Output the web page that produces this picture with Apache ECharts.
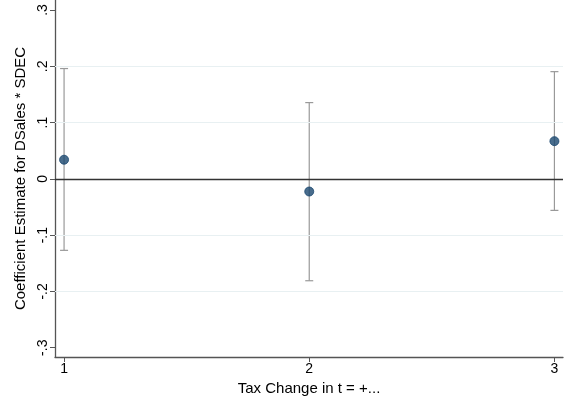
<!DOCTYPE html>
<html>
<head>
<meta charset="utf-8">
<script src="https://cdn.jsdelivr.net/npm/echarts@6/dist/echarts.min.js"></script>
<style>html,body{margin:0;padding:0;background:#fff;}#c{width:572px;height:406px;}</style>
</head>
<body>
<div id="c"></div>
<script>
const horizons = [1, 2, 3];
const estimates = [0.034, -0.0225, 0.067];
const ciLower = [-0.127, -0.181, -0.056];
const ciUpper = [0.196, 0.1355, 0.1905];
const yTickValues = [-0.3, -0.2, -0.1, 0, 0.1, 0.2, 0.3];
const yTickLabels = ['-.3', '-.2', '-.1', '0', '.1', '.2', '.3'];
const xTickValues = [1, 2, 3];
const gridLineValues = [-0.2, -0.1, 0.1, 0.2];

const chart = echarts.init(document.getElementById('c'), null, {renderer: 'canvas'});
const font = 'Liberation Sans, Arial, sans-serif';
chart.setOption({
  animation: false,
  backgroundColor: '#ffffff',
  grid: {left: 55, right: 9, top: 0, bottom: 49, containLabel: false},
  xAxis: {
    type: 'value', min: 0.963, max: 3.035,
    name: 'Tax Change in t = +...', nameLocation: 'middle', nameGap: 24,
    nameTextStyle: {fontFamily: font, fontSize: 15, color: '#000'},
    axisLine: {show: true, onZero: false, lineStyle: {color: '#555', width: 1.3}},
    axisTick: {show: true, customValues: xTickValues, length: 5, lineStyle: {color: '#555'}},
    axisLabel: {customValues: xTickValues, fontFamily: font, fontSize: 14, color: '#000', margin: 5},
    splitLine: {show: false}
  },
  yAxis: {
    type: 'value', min: -0.3165, max: 0.3178,
    name: 'Coefficient Estimate for DSales * SDEC', nameLocation: 'middle', nameGap: 25,
    nameTextStyle: {fontFamily: font, fontSize: 15, color: '#000'},
    axisLine: {show: true, onZero: false, lineStyle: {color: '#555', width: 1.3}},
    axisTick: {show: true, customValues: yTickValues, length: 5, lineStyle: {color: '#555'}},
    axisLabel: {customValues: yTickValues, rotate: 90, fontFamily: font, fontSize: 14, color: '#000', margin: 5,
      formatter: v => { const i = yTickValues.findIndex(t => Math.abs(t - v) < 1e-9); return i >= 0 ? yTickLabels[i] : ''; }},
    splitLine: {show: false}
  },
  series: [
    {
      type: 'line', data: [], silent: true,
      markLine: {
        symbol: 'none', silent: true, label: {show: false},
        data: gridLineValues.map(v => ({yAxis: v, lineStyle: {color: '#e8f0f2', width: 1, type: 'solid'}}))
          .concat([{yAxis: 0, lineStyle: {color: '#333', width: 1.3, type: 'solid'}}])
      }
    },
    {
      type: 'custom',
      data: horizons.map((h, i) => [h, ciLower[i], ciUpper[i]]),
      renderItem: function (params, api) {
        const x = api.value(0);
        const lo = api.coord([x, api.value(1)]);
        const hi = api.coord([x, api.value(2)]);
        const cap = 4;
        const style = {stroke: '#999', lineWidth: 1.2};
        return {type: 'group', children: [
          {type: 'line', shape: {x1: lo[0], y1: lo[1], x2: hi[0], y2: hi[1]}, style: style},
          {type: 'line', shape: {x1: lo[0] - cap, y1: lo[1], x2: lo[0] + cap, y2: lo[1]}, style: style},
          {type: 'line', shape: {x1: hi[0] - cap, y1: hi[1], x2: hi[0] + cap, y2: hi[1]}, style: style}
        ]};
      },
      z: 3
    },
    {
      type: 'scatter',
      data: horizons.map((h, i) => [h, estimates[i]]),
      symbol: 'circle', symbolSize: 9,
      itemStyle: {color: '#1a476f', borderColor: '#1a476f'},
      z: 4
    }
  ]
});
</script>
</body>
</html>
